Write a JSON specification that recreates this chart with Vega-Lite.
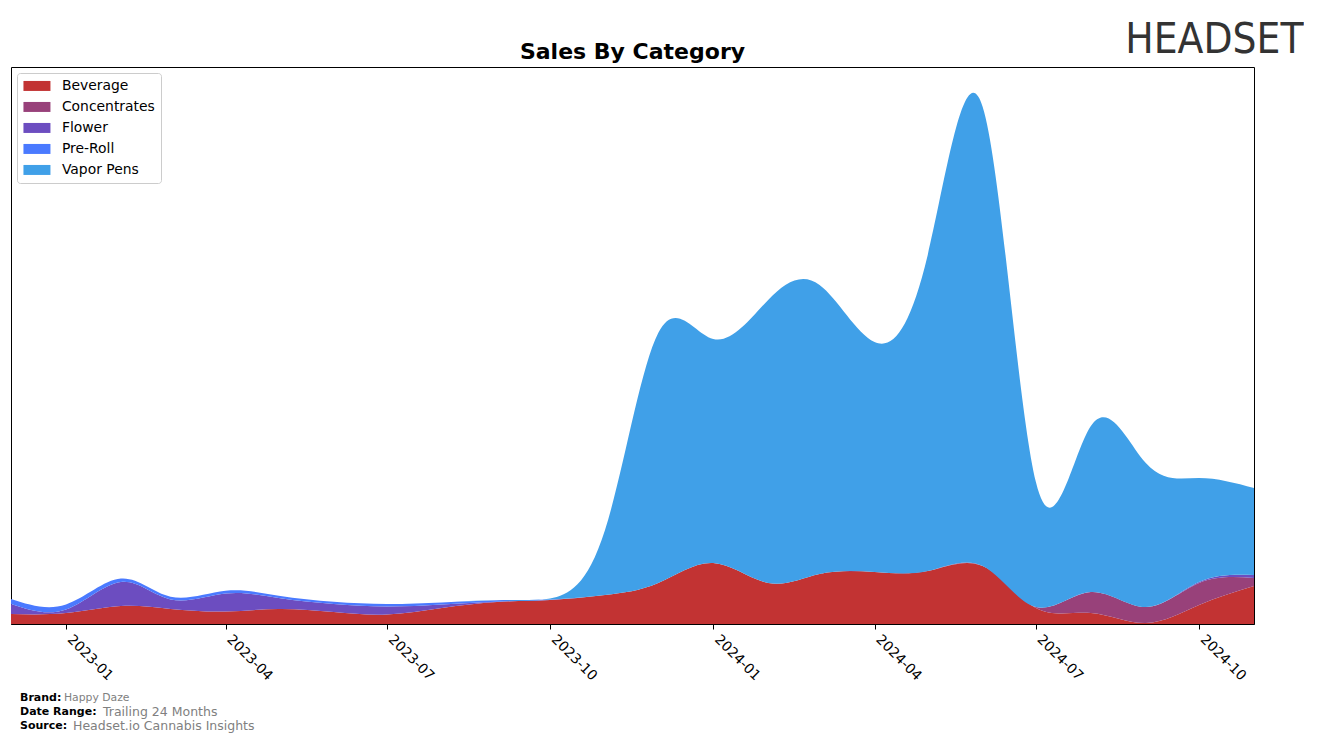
{
  "$schema": "https://vega.github.io/schema/vega-lite/v6.json",
  "background": "white",
  "padding": {"left": 10, "top": 18, "right": 0, "bottom": 0},
  "config": {"font": "DejaVu Sans", "view": {"stroke": "black", "strokeWidth": 1}},
  "title": {"text": "HEADSET", "anchor": "end", "font": "DejaVu Sans Condensed, Roboto Condensed, Roboto", "fontSize": 42, "fontWeight": "normal", "color": "#333333", "dx": 49, "offset": -21},
  "spacing": 7,
  "vconcat": [
    {
      "width": 1243,
      "height": 557,
      "title": {"text": "Sales By Category", "font": "DejaVu Sans", "fontSize": 22, "fontWeight": "bold", "color": "black", "anchor": "middle", "offset": 3},
      "data": {"values": [
        {"date": "2022-12-01", "Beverage": 10, "Concentrates": 0, "Flower": 10, "Pre-Roll": 5, "Vapor Pens": 0},
        {"date": "2023-01-01", "Beverage": 11, "Concentrates": 0, "Flower": 3.5, "Pre-Roll": 5, "Vapor Pens": 0},
        {"date": "2023-02-01", "Beverage": 18, "Concentrates": 0, "Flower": 24, "Pre-Roll": 3.4, "Vapor Pens": 0},
        {"date": "2023-03-01", "Beverage": 15, "Concentrates": 0, "Flower": 9.6, "Pre-Roll": 2.7, "Vapor Pens": 0},
        {"date": "2023-04-01", "Beverage": 12.5, "Concentrates": 0, "Flower": 18, "Pre-Roll": 2.7, "Vapor Pens": 0},
        {"date": "2023-05-01", "Beverage": 15, "Concentrates": 0, "Flower": 11, "Pre-Roll": 2.3, "Vapor Pens": 0},
        {"date": "2023-06-01", "Beverage": 12, "Concentrates": 0, "Flower": 8, "Pre-Roll": 2.3, "Vapor Pens": 0},
        {"date": "2023-07-01", "Beverage": 9.5, "Concentrates": 0, "Flower": 8, "Pre-Roll": 2.5, "Vapor Pens": 0},
        {"date": "2023-08-01", "Beverage": 16, "Concentrates": 0, "Flower": 3.5, "Pre-Roll": 2, "Vapor Pens": 0},
        {"date": "2023-09-01", "Beverage": 22, "Concentrates": 0, "Flower": 0.3, "Pre-Roll": 1.5, "Vapor Pens": 0},
        {"date": "2023-10-01", "Beverage": 24, "Concentrates": 0, "Flower": 0, "Pre-Roll": 0.5, "Vapor Pens": 1},
        {"date": "2023-11-01", "Beverage": 29, "Concentrates": 0, "Flower": 0, "Pre-Roll": 0, "Vapor Pens": 65},
        {"date": "2023-12-01", "Beverage": 41, "Concentrates": 0, "Flower": 0, "Pre-Roll": 0, "Vapor Pens": 250},
        {"date": "2024-01-01", "Beverage": 61, "Concentrates": 0, "Flower": 0, "Pre-Roll": 0, "Vapor Pens": 224},
        {"date": "2024-02-01", "Beverage": 41, "Concentrates": 0, "Flower": 0, "Pre-Roll": 0, "Vapor Pens": 283},
        {"date": "2024-03-01", "Beverage": 50, "Concentrates": 0, "Flower": 0, "Pre-Roll": 0, "Vapor Pens": 289},
        {"date": "2024-04-01", "Beverage": 52, "Concentrates": 0, "Flower": 0, "Pre-Roll": 0, "Vapor Pens": 230},
        {"date": "2024-05-01", "Beverage": 53, "Concentrates": 0, "Flower": 0, "Pre-Roll": 0, "Vapor Pens": 316},
        {"date": "2024-06-01", "Beverage": 58, "Concentrates": 0, "Flower": 0, "Pre-Roll": 0, "Vapor Pens": 459},
        {"date": "2024-07-01", "Beverage": 16, "Concentrates": 1, "Flower": 0, "Pre-Roll": 0, "Vapor Pens": 125},
        {"date": "2024-08-01", "Beverage": 11, "Concentrates": 21, "Flower": 0, "Pre-Roll": 0, "Vapor Pens": 166},
        {"date": "2024-09-01", "Beverage": 1, "Concentrates": 16, "Flower": 0, "Pre-Roll": 0, "Vapor Pens": 144},
        {"date": "2024-10-01", "Beverage": 19, "Concentrates": 22, "Flower": 1, "Pre-Roll": 0, "Vapor Pens": 104},
        {"date": "2024-11-01", "Beverage": 38, "Concentrates": 8, "Flower": 3, "Pre-Roll": 0, "Vapor Pens": 87}
      ]},
      "transform": [{"fold": ["Beverage", "Concentrates", "Flower", "Pre-Roll", "Vapor Pens"], "as": ["category", "value"]}],
      "mark": {"type": "area", "interpolate": "natural"},
      "encoding": {
        "x": {
          "field": "date", "type": "temporal",
          "scale": {"type": "utc", "nice": false, "domain": [{"year": 2022, "month": 12, "date": 1, "utc": true}, {"year": 2024, "month": 11, "date": 1, "utc": true}]},
          "axis": {
            "title": null, "grid": false, "format": "%Y-%m",
            "values": [
              {"year": 2023, "month": 1, "date": 1, "utc": true},
              {"year": 2023, "month": 4, "date": 1, "utc": true},
              {"year": 2023, "month": 7, "date": 1, "utc": true},
              {"year": 2023, "month": 10, "date": 1, "utc": true},
              {"year": 2024, "month": 1, "date": 1, "utc": true},
              {"year": 2024, "month": 4, "date": 1, "utc": true},
              {"year": 2024, "month": 7, "date": 1, "utc": true},
              {"year": 2024, "month": 10, "date": 1, "utc": true}
            ],
            "labelAngle": 45, "labelAlign": "left", "labelBaseline": "top",
            "labelFont": "DejaVu Sans", "labelFontSize": 13.9, "labelColor": "black",
            "labelPadding": 3, "labelOffset": 8, "labelFlush": false, "labelOverlap": false,
            "tickColor": "black", "tickSize": 5, "domainColor": "black"
          }
        },
        "y": {"field": "value", "type": "quantitative", "stack": "zero", "scale": {"domain": [0, 557], "nice": false}, "axis": null},
        "color": {
          "field": "category", "type": "nominal",
          "scale": {"domain": ["Beverage", "Concentrates", "Flower", "Pre-Roll", "Vapor Pens"], "range": ["#c23333", "#98417a", "#6c4dc0", "#4a7aff", "#40a0e8"]},
          "legend": {
            "title": null, "orient": "top-left", "offset": 6,
            "fillColor": "white", "strokeColor": "#cccccc", "cornerRadius": 3, "padding": 6,
            "symbolType": "M-2.077,-0.769H2.077V0.769H-2.077Z", "symbolSize": 169, "symbolOffset": 7,
            "symbolStrokeWidth": 0, "symbolOpacity": 1,
            "labelFont": "DejaVu Sans", "labelFontSize": 13.9, "labelColor": "black",
            "rowPadding": 6, "labelOffset": 18
          }
        },
        "order": {"field": "category", "sort": "ascending"}
      }
    },
    {
      "width": 300,
      "height": 42,
      "view": {"stroke": null},
      "data": {"values": [
        {"label": "Brand:", "value": "Happy Daze"},
        {"label": "Date Range:", "value": "Trailing 24 Months"},
        {"label": "Source:", "value": "Headset.io Cannabis Insights"}
      ]},
      "encoding": {"y": {"field": "label", "type": "nominal", "sort": null, "axis": null, "scale": {"type": "point", "padding": 0.5}}},
      "layer": [
        {"mark": {"type": "text", "align": "left", "baseline": "middle", "fontWeight": "bold", "fontSize": 11, "color": "black", "dx": 9},
         "encoding": {"x": {"value": 0}, "text": {"field": "label"}}},
        {"transform": [{"filter": "datum.label == 'Brand:'"}],
         "mark": {"type": "text", "align": "left", "baseline": "middle", "fontSize": 10.8, "color": "#808080", "dx": 53},
         "encoding": {"x": {"value": 0}, "text": {"field": "value"}}},
        {"transform": [{"filter": "datum.label == 'Date Range:'"}],
         "mark": {"type": "text", "align": "left", "baseline": "middle", "fontSize": 12.5, "color": "#808080", "dx": 92},
         "encoding": {"x": {"value": 0}, "text": {"field": "value"}}},
        {"transform": [{"filter": "datum.label == 'Source:'"}],
         "mark": {"type": "text", "align": "left", "baseline": "middle", "fontSize": 12.5, "color": "#808080", "dx": 62},
         "encoding": {"x": {"value": 0}, "text": {"field": "value"}}}
      ]
    }
  ]
}
